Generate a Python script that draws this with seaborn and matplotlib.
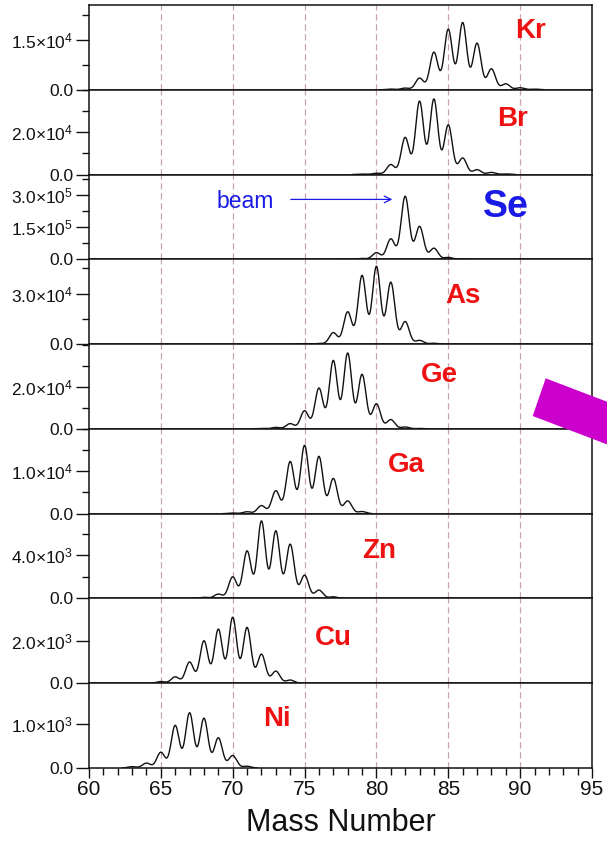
import numpy as np
import pandas as pd
import matplotlib
matplotlib.use("Agg")
import matplotlib.pyplot as plt
from matplotlib.patches import Polygon
from matplotlib.ticker import FixedLocator, MultipleLocator
import seaborn as sns

# ---- data -------------------------------------------------------------
elements = ["Kr", "Br", "Se", "As", "Ge", "Ga", "Zn", "Cu", "Ni"]

# isotope yields (counts at each peak) per element
kr_mass = [81, 82, 83, 84, 85, 86, 87, 88, 89, 90, 91]
kr_counts = [200, 500, 3500, 11300, 18200, 20200, 14000, 6300, 1800, 600, 200]
br_mass = [79, 80, 81, 82, 83, 84, 85, 86, 87, 88, 89]
br_counts = [200, 600, 4700, 17500, 34600, 35600, 23400, 7800, 2300, 1000, 300]
se_mass = [78, 79, 80, 81, 82, 83, 84, 85, 86]
se_counts = [1000, 4000, 31000, 95000, 293000, 153000, 51600, 9000, 2000]
as_mass = [75, 76, 77, 78, 79, 80, 81, 82, 83, 84]
as_counts = [150, 400, 6800, 19200, 40800, 46200, 36800, 13400, 2200, 500]
ge_mass = [72, 73, 74, 75, 76, 77, 78, 79, 80, 81, 82, 83]
ge_counts = [200, 700, 2500, 8600, 19400, 32500, 36000, 25900, 11900, 4400, 900, 200]
ga_mass = [70, 71, 72, 73, 74, 75, 76, 77, 78, 79]
ga_counts = [150, 450, 1900, 5400, 12300, 16100, 13500, 8300, 3000, 500]
zn_mass = [68, 69, 70, 71, 72, 73, 74, 75, 76, 77]
zn_counts = [100, 400, 2000, 4400, 7170, 6250, 5020, 2150, 770, 150]
cu_mass = [65, 66, 67, 68, 69, 70, 71, 72, 73, 74]
cu_counts = [80, 300, 1000, 2000, 2550, 3110, 2630, 1370, 570, 150]
ni_mass = [63, 64, 65, 66, 67, 68, 69, 70, 71]
ni_counts = [30, 110, 355, 960, 1243, 1120, 680, 280, 40]

masses = [kr_mass, br_mass, se_mass, as_mass, ge_mass, ga_mass, zn_mass, cu_mass, ni_mass]
counts = [kr_counts, br_counts, se_counts, as_counts, ge_counts, ga_counts,
          zn_counts, cu_counts, ni_counts]

# y-axis range and ticks of every panel
y_top = [2.55e4, 4.0e4, 3.94e5, 5.04e4, 4.03e4, 2.0e4, 7.85e3, 4.0e3, 1.91e3]
y_ticks = [[0, 1.5e4], [0, 2.0e4], [0, 1.5e5, 3.0e5], [0, 3.0e4], [0, 2.0e4],
           [0, 1.0e4], [0, 4.0e3], [0, 2.0e3], [0, 1.0e3]]
y_minor = [0.75e4, 1.0e4, 0.75e5, 1.5e4, 1.0e4, 0.5e4, 2.0e3, None, None]

# element label placement (mass, fraction of panel height)
label_x = [90.7, 89.5, 89.0, 86.0, 84.4, 82.1, 80.2, 77.0, 73.1]
label_y = [0.69, 0.65, 0.62, 0.57, 0.63, 0.57, 0.565, 0.535, 0.58]

x_ticks = [60, 65, 70, 75, 80, 85, 90, 95]
grid_marks = [65, 70, 75, 80, 85, 90]

beam_peak = 82

# ---- style ------------------------------------------------------------
sns.set_theme(style="ticks")
plt.rcParams["font.family"] = ["Liberation Sans", "DejaVu Sans"]
plt.rcParams["mathtext.fontset"] = "custom"
plt.rcParams["mathtext.rm"] = "Liberation Sans"
plt.rcParams["mathtext.it"] = "Liberation Sans:italic"
plt.rcParams["mathtext.bf"] = "Liberation Sans:bold"

RED = "#ee1111"
BLUE = "#1a1ae6"
GRID = "#c9a3ab"
INK = "#111111"


def tick_text(v):
    if v == 0:
        return "0.0"
    exp = int(np.floor(np.log10(v)))
    mant = v / 10 ** exp
    return f"{mant:.1f}\u00d710$^{{{exp}}}$"


def line_profile(mass, cnt, width=0.28, step=0.04):
    # detector line shape: gaussian peak at every isotope
    grid = np.arange(mass[0] - 0.7, mass[-1] + 0.7 + step / 2, step)
    y = np.zeros_like(grid)
    for m, c in zip(mass, cnt):
        y += c * np.exp(-0.5 * ((grid - m) / width) ** 2)
    return pd.DataFrame({"mass": grid, "counts": y})


fig, axes = plt.subplots(len(elements), 1, sharex=True, figsize=(6.07, 8.42), dpi=100)
fig.subplots_adjust(left=0.1466, right=0.9753, top=0.9941, bottom=0.0879, hspace=0)

for i, (ax, el) in enumerate(zip(axes, elements)):
    df = line_profile(masses[i], counts[i])
    sns.lineplot(data=df, x="mass", y="counts", ax=ax, color=INK,
                 linewidth=1.0, estimator=None, sort=False)
    for g in grid_marks:
        ax.axvline(g, color=GRID, linewidth=0.9, linestyle=(0, (5, 3)), zorder=0)
    ax.set_xlim(60, 95)
    ax.set_ylim(0, y_top[i])
    ax.set_xlabel("")
    ax.set_ylabel("")

    ax.yaxis.set_major_locator(FixedLocator(y_ticks[i]))
    ax.set_yticklabels([tick_text(v) for v in y_ticks[i]])
    if y_minor[i] is not None:
        ax.yaxis.set_minor_locator(MultipleLocator(y_minor[i]))
    ax.tick_params(axis="y", which="major", direction="out", length=9.5,
                   width=1.0, labelsize=12.5, pad=2, colors=INK)
    ax.tick_params(axis="y", which="minor", direction="out", length=4.8,
                   width=1.0, colors=INK)
    for s in ax.spines.values():
        s.set_linewidth(1.1)
        s.set_color(INK)

    if el == "Se":
        ax.text(label_x[i], label_y[i], el, transform=ax.get_xaxis_transform(),
                color=BLUE, fontsize=27, fontweight="bold", ha="center", va="center")
        top = counts[i][masses[i].index(beam_peak)]
        ax.annotate("", xy=(81.3, 0.95 * top), xytext=(73.85, 0.95 * top),
                    arrowprops=dict(arrowstyle="->", color=BLUE, lw=0.9))
        ax.text(70.85, 0.92 * top, "beam", color=BLUE, fontsize=16.5,
                ha="center", va="center")
    else:
        ax.text(label_x[i], label_y[i], el, transform=ax.get_xaxis_transform(),
                color=RED, fontsize=20, fontweight="bold", ha="center", va="center")

bottom = axes[-1]
bottom.xaxis.set_major_locator(FixedLocator(x_ticks))
bottom.xaxis.set_minor_locator(MultipleLocator(1))
bottom.tick_params(axis="x", which="major", direction="out", length=7, width=1.0,
                   labelsize=15, pad=2, colors=INK)
bottom.tick_params(axis="x", which="minor", direction="out", length=5, width=1.0,
                   colors=INK)
for ax in axes[:-1]:
    ax.tick_params(axis="x", which="both", length=0)
bottom.set_xlabel("Mass Number", fontsize=22, labelpad=6, color=INK)

# magenta pointer overlapping the right edge
W, H = 607.0, 842.0
d = np.array([0.934, 0.357])
p1 = np.array([545.7, 378.3])
p4 = np.array([532.7, 416.0])
pts = np.array([p1, p1 + 120 * d, p4 + 120 * d, p4])
pts_fig = np.column_stack([pts[:, 0] / W, 1 - pts[:, 1] / H])
fig.add_artist(Polygon(pts_fig, closed=True, transform=fig.transFigure,
                       facecolor="#cc00cc", edgecolor="none", zorder=10))

fig.savefig("out.png", dpi=100)
